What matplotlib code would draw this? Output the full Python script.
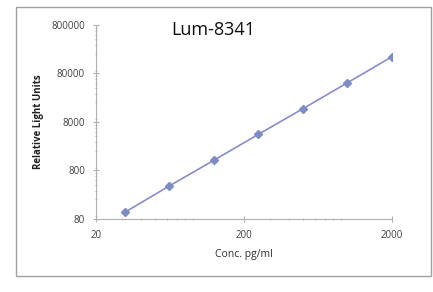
import matplotlib
matplotlib.use("Agg")
import matplotlib.pyplot as plt
from matplotlib.patches import Rectangle
from matplotlib.ticker import LogLocator, FixedLocator, NullFormatter

conc = [31.25, 62.5, 125, 250, 500, 1000, 2000]
rlu = [108, 378, 1280, 4390, 14800, 50900, 175000]
xticks = [20, 200, 2000]
yticks = [80, 800, 8000, 80000, 800000]

fig = plt.figure(figsize=(4.33, 2.92), dpi=100)
fig.patches.append(Rectangle((16/433, 1-276/292), (431-16)/433, (276-7)/292,
                             transform=fig.transFigure, fill=False,
                             edgecolor="#a0a0a0", linewidth=1.0))
ax = fig.add_axes([96/433, 1-218.7/292, (392-96)/433, (218.7-24.7)/292])
ax.set_xscale("log")
ax.set_yscale("log")
ax.set_xlim(20, 2000)
ax.set_ylim(80, 800000)

ax.plot(conc, rlu, color="#8a8ccc", linewidth=1.2, marker="D", markersize=3.8,
        markerfacecolor="#7d8cc4", markeredgecolor="#7d8cc4")

ax.xaxis.set_major_locator(FixedLocator(xticks))
ax.yaxis.set_major_locator(FixedLocator(yticks))
ax.set_xticklabels([str(v) for v in xticks])
ax.set_yticklabels([str(v) for v in yticks])
ax.xaxis.set_minor_locator(LogLocator(base=10, subs=range(2, 10), numticks=20))
ax.yaxis.set_minor_locator(LogLocator(base=10, subs=range(2, 10), numticks=20))
ax.xaxis.set_minor_formatter(NullFormatter())
ax.yaxis.set_minor_formatter(NullFormatter())

for s in ["top", "right"]:
    ax.spines[s].set_visible(False)
for s in ["left", "bottom"]:
    ax.spines[s].set_color("#b0b0b0")
    ax.spines[s].set_linewidth(0.8)

ax.tick_params(axis="both", which="major", colors="#b0b0b0", labelcolor="#404040",
               labelsize=7, length=4, direction="inout", width=0.8)
ax.tick_params(axis="both", which="minor", colors="#b0b0b0", length=2,
               direction="inout", width=0.6)
ax.tick_params(axis="x", pad=6)
ax.tick_params(axis="y", pad=6)
for lab in ax.get_xticklabels() + ax.get_yticklabels():
    lab.set_family("Open Sans")

ax.set_xlabel("Conc. pg/ml", fontsize=7.5, color="#303030", family="Open Sans", labelpad=6)
ax.set_ylabel("Relative Light Units", fontsize=7, fontweight="bold", color="#202020",
              family="Open Sans", labelpad=5.5)
fig.text(213/433, 1-30/292, "Lum-8341", fontsize=13, ha="center", va="center",
         family="Open Sans", color="#101010")

fig.savefig("out.png", dpi=100)
